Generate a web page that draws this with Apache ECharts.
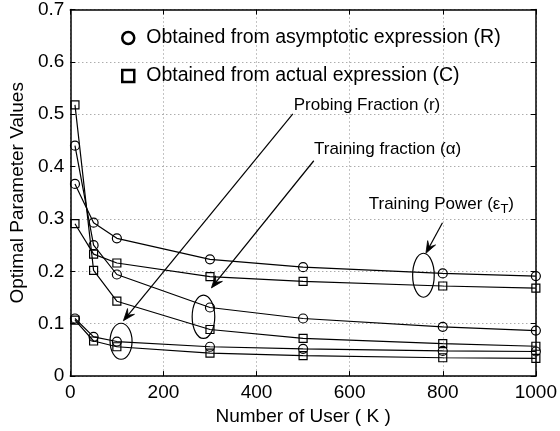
<!DOCTYPE html>
<html>
<head>
<meta charset="utf-8">
<script src="https://cdn.jsdelivr.net/npm/echarts@6/dist/echarts.min.js"></script>
<style>
html, body { margin: 0; padding: 0; background: #fff; }
#chart { width: 560px; height: 431px; }
</style>
</head>
<body>
<div id="chart"></div>
<script>
// number of users K
const users = [10, 50, 100, 300, 500, 800, 1000]

// training power
const powerR = [0.367, 0.293, 0.263, 0.223, 0.208, 0.196, 0.191]
const powerC = [0.291, 0.233, 0.216, 0.190, 0.181, 0.172, 0.168]
// training fraction
const fractionR = [0.440, 0.250, 0.194, 0.131, 0.110, 0.094, 0.087]
const fractionC = [0.518, 0.202, 0.143, 0.089, 0.072, 0.062, 0.057]
// probing fraction
const probingR = [0.110, 0.075, 0.066, 0.056, 0.052, 0.048, 0.047]
const probingC = [0.107, 0.067, 0.056, 0.044, 0.039, 0.035, 0.034]

const nameR = 'Obtained from asymptotic expression (R)'
const nameC = 'Obtained from actual expression (C)'

const font = '"Liberation Sans", Arial, sans-serif'

function lineSeries(name, values, symbol, size) {
  return {
    name: name,
    type: 'line',
    data: users.map((u, i) => [u, values[i]]),
    symbol: symbol,
    symbolSize: size,
    animation: false,
    lineStyle: { color: '#000', width: 1.2 },
    itemStyle: { color: 'transparent', borderColor: '#000', borderWidth: 1.2 }
  }
}

const chart = echarts.init(document.getElementById('chart'))

const tick = { inside: true, length: 5, lineStyle: { color: '#000', width: 1 } }
const axisLine = { show: true, onZero: false, lineStyle: { color: '#000', width: 1.5 } }
const grid = { show: true, lineStyle: { color: '#888', type: [1, 3], width: 1 } }

chart.setOption({
  textStyle: { fontFamily: font },
  grid: { left: 67, right: 23, top: 9, bottom: 54 },
  legend: {
    orient: 'vertical',
    left: 116,
    top: 23,
    itemWidth: 12,
    itemHeight: 12,
    itemGap: 18,
    itemStyle: { color: 'transparent', borderColor: '#000', borderWidth: 2.5 },
    textStyle: { fontSize: 19.5, color: '#000', lineHeight: 20, padding: [0, 0, 0, 7] },
    data: [{ name: nameR, icon: 'circle' }, { name: nameC, icon: 'rect' }]
  },
  xAxis: [
    {
      type: 'value', min: 0, max: 1000, interval: 200,
      name: 'Number of User ( K )', nameLocation: 'middle', nameGap: 27,
      nameTextStyle: { fontSize: 19, color: '#000' },
      axisLine: axisLine, axisTick: tick, splitLine: grid,
      axisLabel: { fontSize: 19, color: '#000', margin: 7, formatter: v => String(v) }
    },
    {
      type: 'value', position: 'top', min: 0, max: 1000, interval: 200,
      axisLine: axisLine, axisTick: tick, splitLine: { show: false },
      axisLabel: { show: false }
    }
  ],
  yAxis: [
    {
      type: 'value', min: 0, max: 0.7, interval: 0.1,
      name: 'Optimal Parameter Values', nameLocation: 'middle', nameGap: 41,
      nameTextStyle: { fontSize: 19, color: '#000' },
      axisLine: axisLine, axisTick: tick, splitLine: grid,
      axisLabel: { fontSize: 19, color: '#000', margin: 6 }
    },
    {
      type: 'value', position: 'right', min: 0, max: 0.7, interval: 0.1,
      axisLine: axisLine, axisTick: tick, splitLine: { show: false },
      axisLabel: { show: false }
    }
  ],
  series: [
    lineSeries(nameR, powerR, 'circle', 9),
    lineSeries(nameC, powerC, 'rect', 8),
    lineSeries(nameR, fractionR, 'circle', 9),
    lineSeries(nameC, fractionC, 'rect', 8),
    lineSeries(nameR, probingR, 'circle', 9),
    lineSeries(nameC, probingC, 'rect', 8)
  ]
})

// annotations, placed in data coordinates
const ellipses = [
  { at: [109, 0.0665], rx: 11, ry: 18 },
  { at: [286, 0.1133], rx: 11.3, ry: 21.7 },
  { at: [758.5, 0.1926], rx: 10.8, ry: 22 }
]
const arrows = [
  { from: [478, 0.5006], to: [114, 0.1057] },
  { from: [523, 0.4112], to: [303, 0.1684] },
  { from: [799.4, 0.2928], to: [763.8, 0.2344] }
]
const notes = [
  { at: [480, 0.5177], text: 'Probing Fraction (r)' },
  { at: [523.4, 0.4329], text: 'Training fraction (α)' },
  { at: [641, 0.3289], text: '{a|Training Power (ε}{s|T}{a|)}' }
]

const px = p => chart.convertToPixel({ gridIndex: 0 }, p)
const graphic = []

ellipses.forEach(e => {
  const c = px(e.at)
  graphic.push({
    type: 'ellipse',
    shape: { cx: c[0], cy: c[1], rx: e.rx, ry: e.ry },
    style: { fill: 'none', stroke: '#000', lineWidth: 1.2 }
  })
})

arrows.forEach(a => {
  const s = px(a.from)
  const t = px(a.to)
  const dx = t[0] - s[0], dy = t[1] - s[1]
  const len = Math.sqrt(dx * dx + dy * dy)
  const ux = dx / len, uy = dy / len
  const nx = -uy, ny = ux
  const L = 12, W = 4.5
  graphic.push({
    type: 'line',
    shape: { x1: s[0], y1: s[1], x2: t[0] - ux * 6, y2: t[1] - uy * 6 },
    style: { stroke: '#000', lineWidth: 1.2 }
  })
  graphic.push({
    type: 'polygon',
    shape: {
      points: [
        [t[0], t[1]],
        [t[0] - ux * L + nx * W, t[1] - uy * L + ny * W],
        [t[0] - ux * L * 0.6, t[1] - uy * L * 0.6],
        [t[0] - ux * L - nx * W, t[1] - uy * L - ny * W]
      ]
    },
    style: { fill: '#000', stroke: '#000', lineWidth: 0.8 }
  })
})

notes.forEach(n => {
  const c = px(n.at)
  graphic.push({
    type: 'text',
    x: c[0],
    y: c[1],
    style: {
      text: n.text,
      fill: '#000',
      fontSize: 17,
      fontFamily: font,
      align: 'left',
      verticalAlign: 'middle',
      rich: {
        a: { fontSize: 17, fontFamily: font, fill: '#000' },
        s: { fontSize: 13, fontFamily: font, fill: '#000', padding: [12, 0, 0, 0] }
      }
    }
  })
})

chart.setOption({ graphic: graphic })
</script>
</body>
</html>
